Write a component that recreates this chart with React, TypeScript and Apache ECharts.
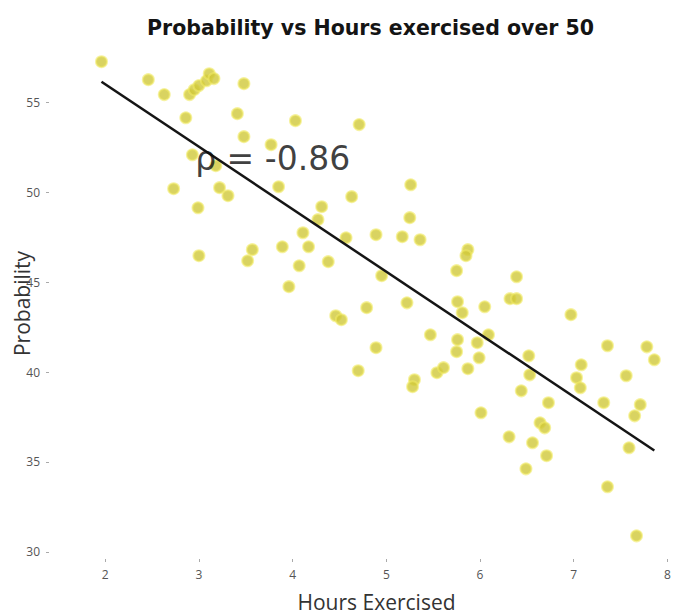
import React, { useEffect, useRef } from "react";
import * as echarts from "echarts";

// Hours exercised per week (x) and probability score (y) for each person over 50
const hours = [
  1.96, 2.46, 2.63, 2.9, 2.95, 3.0, 3.08, 3.11, 3.16, 3.48, 2.86, 3.41, 3.48, 3.77,
  4.03, 2.93, 3.18, 2.73, 3.22, 3.31, 2.99, 3.85, 3.0, 3.57, 3.52, 3.89, 4.07, 4.11,
  4.17, 3.96, 4.31, 4.27, 4.71, 4.63, 5.26, 5.25, 4.57, 4.89, 5.17, 5.36, 4.38, 5.87,
  5.85, 5.75, 4.95, 5.22, 5.76, 6.39, 6.32, 6.39, 5.81, 6.05, 4.79, 4.46, 4.52, 5.76,
  5.75, 5.47, 5.97, 6.09, 5.99, 5.87, 4.89, 4.7, 5.3, 5.28, 5.54, 5.61, 6.52, 6.53,
  6.44, 6.01, 6.31, 6.64, 6.69, 6.56, 6.71, 6.49, 6.97, 7.36, 7.08, 7.03, 7.07, 7.56,
  7.78, 7.86, 7.32, 7.71, 7.65, 7.59, 7.36, 7.67, 6.73,
];

const probability = [
  57.28, 56.28, 55.45, 55.45, 55.72, 55.95, 56.22, 56.61, 56.34, 56.06, 54.16, 54.39,
  53.11, 52.66, 54.0, 52.1, 51.49, 50.21, 50.27, 49.82, 49.15, 50.32, 46.48, 46.82,
  46.2, 46.98, 45.92, 47.76, 46.98, 44.76, 49.21, 48.49, 53.78, 49.77, 50.43, 48.6,
  47.48, 47.65, 47.54, 47.37, 46.15, 46.82, 46.48, 45.65, 45.37, 43.86, 43.92, 45.31,
  44.09, 44.09, 43.31, 43.64, 43.59, 43.14, 42.92, 41.81, 41.14, 42.08, 41.64, 42.08,
  40.8, 40.19, 41.36, 40.08, 39.58, 39.19, 39.97, 40.25, 40.91, 39.85, 38.96, 37.74,
  36.4, 37.18, 36.9, 36.07, 35.35, 34.62, 43.2, 41.47, 40.41, 39.69, 39.13, 39.8,
  41.41, 40.69, 38.3, 38.19, 37.57, 35.79, 33.62, 30.89, 38.3,
];

const xTicks = [2, 3, 4, 5, 6, 7, 8];
const yTicks = [30, 35, 40, 45, 50, 55];
const correlationLabel = "ρ = -0.86";
const labelAt = [2.96, 51.9];

// Ordinary least squares fit, drawn over the observed range of hours
function fitLine(xs: number[], ys: number[]) {
  const n = xs.length;
  const mx = xs.reduce((a, b) => a + b, 0) / n;
  const my = ys.reduce((a, b) => a + b, 0) / n;
  let sxy = 0;
  let sxx = 0;
  for (let i = 0; i < n; i++) {
    sxy += (xs[i] - mx) * (ys[i] - my);
    sxx += (xs[i] - mx) * (xs[i] - mx);
  }
  const slope = sxy / sxx;
  const intercept = my - slope * mx;
  const x0 = Math.min(...xs);
  const x1 = Math.max(...xs);
  return [
    [x0, intercept + slope * x0],
    [x1, intercept + slope * x1],
  ];
}

export default function App() {
  const ref = useRef<HTMLDivElement>(null);

  useEffect(() => {
    if (!ref.current) return;
    const chart = echarts.init(ref.current, null, { renderer: "svg" });
    const points = hours.map((h, i) => [h, probability[i]]);
    const tickFont = { fontFamily: "Open Sans", fontSize: 12, color: "#555" };

    chart.setOption({
      animation: false,
      backgroundColor: "#ffffff",
      title: {
        text: "Probability vs Hours exercised over 50",
        left: 142,
        top: 12,
        textStyle: {
          fontFamily: "DejaVu Sans",
          fontWeight: "bold",
          fontSize: 20.5,
          color: "#141414",
        },
      },
      grid: {
        left: 49,
        right: 0,
        top: 38,
        bottom: 57,
        containLabel: false,
        outerBoundsMode: "none",
      },
      xAxis: {
        type: "value",
        min: 1.4,
        max: 8.07,
        name: "Hours Exercised",
        nameLocation: "middle",
        nameGap: 32,
        nameTextStyle: {
          fontFamily: "Open Sans",
          fontSize: 21,
          color: "#333",
          padding: [0, 0, 0, 30],
        },
        axisLine: { show: false },
        axisTick: {
          show: true,
          customValues: xTicks,
          length: 3,
          lineStyle: { color: "#aaa" },
        },
        axisLabel: { customValues: xTicks, margin: 9, ...tickFont },
        splitLine: { show: false },
      },
      yAxis: {
        type: "value",
        min: 29.6,
        max: 58.6,
        name: "Probability",
        nameLocation: "middle",
        nameRotate: 90,
        nameGap: 17,
        nameMoveOverlap: false,
        nameTextStyle: {
          fontFamily: "Open Sans",
          fontSize: 21,
          color: "#333",
          padding: [0, 10, 0, 0],
        },
        axisLine: { show: false },
        axisTick: {
          show: true,
          customValues: yTicks,
          length: 3,
          lineStyle: { color: "#aaa" },
        },
        axisLabel: { customValues: yTicks, margin: 9, ...tickFont },
        splitLine: { show: false },
      },
      series: [
        {
          type: "scatter",
          data: points,
          symbolSize: 11,
          itemStyle: {
            color: "#d0c83a",
            borderColor: "rgba(240,234,100,0.75)",
            borderWidth: 2,
          },
          z: 2,
        },
        {
          type: "line",
          data: fitLine(hours, probability),
          showSymbol: false,
          lineStyle: { color: "#151515", width: 2.5 },
          z: 3,
        },
        {
          type: "scatter",
          data: [labelAt],
          symbolSize: 0,
          silent: true,
          label: {
            show: true,
            position: "right",
            distance: 0,
            formatter: correlationLabel,
            fontFamily: "DejaVu Sans",
            fontSize: 33,
            color: "#0d0d0d",
          },
          z: 4,
        },
      ],
    });

    return () => chart.dispose();
  }, []);

  return (
    <div
      ref={ref}
      style={{ position: "fixed", left: 0, top: 0, width: 674, height: 616 }}
    />
  );
}
